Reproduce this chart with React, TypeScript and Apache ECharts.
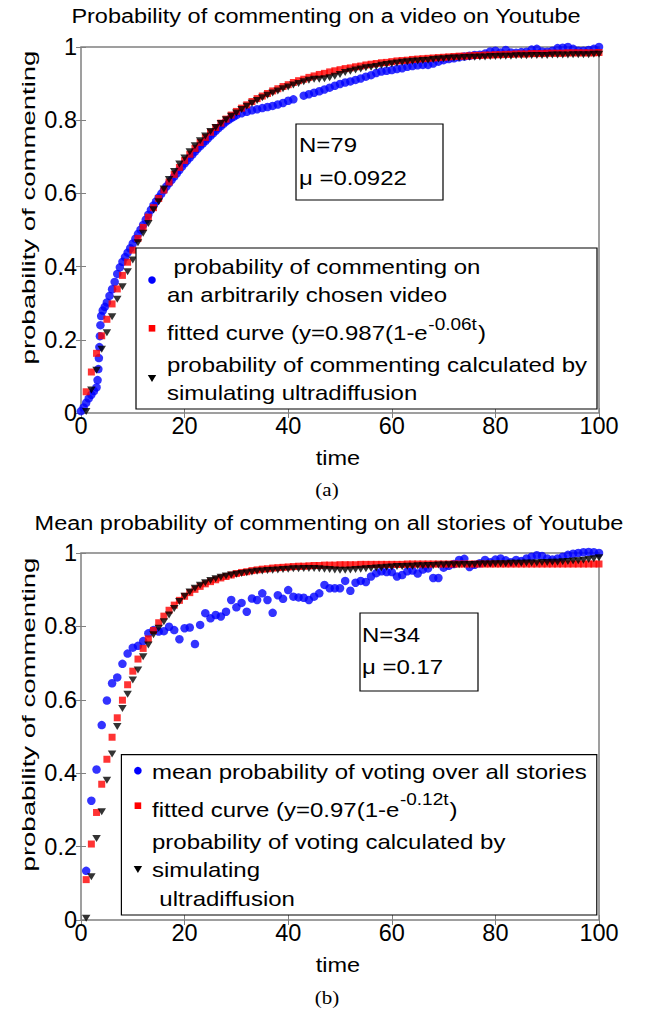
import React, { useEffect, useRef } from "react";
import * as echarts from "echarts";

// ---------- DATA ----------
const xTickValues = [0, 20, 40, 60, 80, 100];
const yTickValues = [0, 0.2, 0.4, 0.6, 0.8, 1];

// (a) probability of commenting on an arbitrarily chosen video: [time, probability]
const videoObserved: [number, number][] = [
  [0, 0.005], [0.5, 0.015], [1, 0.028], [1.5, 0.04], [2, 0.05], [2.5, 0.06], [3, 0.07], [3.2, 0.09],
  [3.35, 0.12], [3.45, 0.15], [3.55, 0.18], [3.65, 0.21], [3.75, 0.24], [3.9, 0.265], [4.2, 0.28],
  [4.6, 0.29], [5, 0.302], [5.5, 0.32], [6, 0.338], [6.5, 0.358], [7, 0.38], [7.5, 0.398], [8, 0.413],
  [8.5, 0.426], [9, 0.438], [9.5, 0.45], [10, 0.463], [10.5, 0.476], [11, 0.489], [11.5, 0.501],
  [12, 0.514], [12.5, 0.528], [13, 0.542], [13.5, 0.555], [14, 0.567], [14.5, 0.578], [15, 0.589],
  [15.5, 0.599], [16, 0.609], [16.5, 0.619], [17, 0.628], [17.5, 0.637], [18, 0.646], [18.5, 0.655],
  [19, 0.664], [19.5, 0.673], [20, 0.682], [20.5, 0.69], [21, 0.698], [21.5, 0.706], [22, 0.714],
  [22.5, 0.722], [23, 0.729], [23.5, 0.736], [24, 0.743], [24.5, 0.75], [25, 0.757], [25.5, 0.764],
  [26, 0.771], [26.5, 0.778], [27, 0.784], [27.5, 0.79], [28, 0.796], [28.5, 0.801], [29, 0.806],
  [29.5, 0.81], [30, 0.814], [31, 0.819], [32, 0.823], [33, 0.827], [34, 0.83], [35, 0.833], [36, 0.836],
  [37, 0.839], [38, 0.843], [39, 0.847], [40, 0.853], [41, 0.857], [43, 0.867], [44, 0.871], [45, 0.875],
  [46, 0.879], [47, 0.884], [48, 0.889], [49, 0.894], [50, 0.899], [51, 0.903], [52, 0.906], [53, 0.91],
  [54, 0.914], [55, 0.919], [56, 0.923], [57, 0.929], [58, 0.933], [59, 0.935], [60, 0.937], [61, 0.94],
  [62, 0.942], [63, 0.946], [64, 0.948], [65, 0.95], [66, 0.951], [67, 0.951], [68, 0.955], [69, 0.96],
  [70, 0.964], [71, 0.967], [72, 0.969], [73, 0.972], [74, 0.974], [75, 0.976], [76, 0.978], [77, 0.979],
  [78, 0.982], [79, 0.988], [80, 0.99], [81, 0.985], [82, 0.992], [83, 0.985], [84, 0.984], [85, 0.986],
  [86, 0.987], [87, 0.993], [88, 0.995], [89, 0.988], [90, 0.987], [91, 0.99], [92, 0.997], [93, 0.998],
  [94, 1.0], [95, 0.995], [96, 0.99], [97, 0.99], [98, 0.992], [99, 0.995], [100, 1.0],
];

// (a) fitted curve, read at t = 1..100
const videoFitted = [
  0.058, 0.112, 0.163, 0.211, 0.256, 0.298, 0.339, 0.376, 0.412, 0.445,
  0.477, 0.507, 0.535, 0.561, 0.586, 0.609, 0.631, 0.652, 0.671, 0.69,
  0.707, 0.723, 0.739, 0.753, 0.767, 0.78, 0.792, 0.803, 0.814, 0.824,
  0.833, 0.842, 0.851, 0.859, 0.866, 0.873, 0.88, 0.886, 0.892, 0.897,
  0.903, 0.908, 0.912, 0.917, 0.921, 0.925, 0.928, 0.932, 0.935, 0.938,
  0.941, 0.943, 0.946, 0.948, 0.951, 0.953, 0.955, 0.957, 0.958, 0.96,
  0.962, 0.963, 0.964, 0.966, 0.967, 0.968, 0.969, 0.97, 0.971, 0.972,
  0.973, 0.974, 0.975, 0.975, 0.976, 0.977, 0.977, 0.978, 0.978, 0.979,
  0.979, 0.98, 0.98, 0.981, 0.981, 0.981, 0.982, 0.982, 0.982, 0.983,
  0.983, 0.983, 0.983, 0.984, 0.984, 0.984, 0.984, 0.984, 0.984, 0.985,
];

// (a) simulated ultradiffusion, t = 1..100
const videoSimulated = [
  0.004, 0.063, 0.117, 0.174, 0.219, 0.263, 0.311, 0.345, 0.386, 0.418,
  0.465, 0.491, 0.518, 0.555, 0.577, 0.612, 0.638, 0.66, 0.68, 0.697,
  0.714, 0.73, 0.744, 0.757, 0.769, 0.78, 0.791, 0.801, 0.811, 0.82,
  0.829, 0.838, 0.846, 0.854, 0.861, 0.868, 0.874, 0.88, 0.886, 0.891,
  0.896, 0.9, 0.905, 0.909, 0.912, 0.912, 0.913, 0.916, 0.92, 0.925,
  0.93, 0.934, 0.937, 0.94, 0.943, 0.945, 0.947, 0.95, 0.952, 0.954,
  0.956, 0.958, 0.96, 0.961, 0.962, 0.963, 0.964, 0.966, 0.967, 0.968,
  0.969, 0.97, 0.97, 0.971, 0.972, 0.972, 0.973, 0.973, 0.974, 0.974,
  0.975, 0.975, 0.975, 0.976, 0.976, 0.976, 0.977, 0.977, 0.977, 0.977,
  0.978, 0.978, 0.978, 0.978, 0.979, 0.979, 0.979, 0.979, 0.98, 0.98,
];

// (b) mean probability over all stories, t = 1..100
const storiesObserved = [
  0.134, 0.325, 0.41, 0.531, 0.598, 0.645, 0.661, 0.698, 0.726, 0.742,
  0.747, 0.76, 0.781, 0.79, 0.786, 0.787, 0.799, 0.79, 0.765, 0.795,
  0.797, 0.752, 0.804, 0.836, 0.822, 0.831, 0.827, 0.84, 0.872, 0.852,
  0.864, 0.84, 0.876, 0.872, 0.89, 0.872, 0.837, 0.885, 0.875, 0.899,
  0.881, 0.879, 0.878, 0.872, 0.881, 0.89, 0.913, 0.904, 0.904, 0.904,
  0.924, 0.897, 0.919, 0.924, 0.921, 0.936, 0.945, 0.95, 0.948, 0.948,
  0.936, 0.94, 0.95, 0.952, 0.944, 0.955, 0.958, 0.932, 0.932, 0.96,
  0.965, 0.97, 0.981, 0.984, 0.962, 0.968, 0.972, 0.981, 0.975, 0.982,
  0.985, 0.98, 0.975, 0.981, 0.978, 0.985, 0.99, 0.994, 0.992, 0.985,
  0.982, 0.985, 0.99, 0.995, 0.998, 1.0, 1.002, 1.003, 1.002, 1.0,
];

// (b) fitted curve, t = 1..100
const storiesFitted = [
  0.11, 0.207, 0.293, 0.37, 0.438, 0.498, 0.551, 0.599, 0.641, 0.678,
  0.711, 0.74, 0.766, 0.789, 0.81, 0.828, 0.844, 0.858, 0.871, 0.882,
  0.892, 0.901, 0.909, 0.916, 0.922, 0.927, 0.932, 0.936, 0.94, 0.944,
  0.947, 0.949, 0.952, 0.954, 0.956, 0.957, 0.959, 0.96, 0.961, 0.962,
  0.963, 0.964, 0.964, 0.965, 0.966, 0.966, 0.967, 0.967, 0.967, 0.968,
  0.968, 0.968, 0.968, 0.969, 0.969, 0.969, 0.969, 0.969, 0.969, 0.969,
  0.969, 0.969, 0.97, 0.97, 0.97, 0.97, 0.97, 0.97, 0.97, 0.97,
  0.97, 0.97, 0.97, 0.97, 0.97, 0.97, 0.97, 0.97, 0.97, 0.97,
  0.97, 0.97, 0.97, 0.97, 0.97, 0.97, 0.97, 0.97, 0.97, 0.97,
  0.97, 0.97, 0.97, 0.97, 0.97, 0.97, 0.97, 0.97, 0.97, 0.97,
];

// (b) simulated ultradiffusion, t = 1..100
const storiesSimulated = [
  0.005, 0.118, 0.222, 0.295, 0.381, 0.452, 0.527, 0.576, 0.615, 0.654,
  0.681, 0.717, 0.749, 0.777, 0.795, 0.813, 0.831, 0.849, 0.868, 0.882,
  0.894, 0.904, 0.912, 0.919, 0.925, 0.93, 0.934, 0.937, 0.94, 0.942,
  0.944, 0.946, 0.948, 0.95, 0.951, 0.952, 0.953, 0.954, 0.955, 0.956,
  0.957, 0.957, 0.958, 0.958, 0.958, 0.957, 0.956, 0.955, 0.954, 0.953,
  0.953, 0.954, 0.955, 0.956, 0.957, 0.958, 0.959, 0.96, 0.961, 0.962,
  0.963, 0.963, 0.964, 0.964, 0.965, 0.965, 0.966, 0.966, 0.967, 0.967,
  0.968, 0.968, 0.968, 0.969, 0.969, 0.969, 0.97, 0.97, 0.97, 0.971,
  0.971, 0.971, 0.972, 0.972, 0.972, 0.973, 0.973, 0.973, 0.974, 0.974,
  0.975, 0.975, 0.976, 0.977, 0.978, 0.979, 0.98, 0.982, 0.984, 0.987,
];

const titleA = "Probability of commenting on a video on Youtube";
const titleB = "Mean probability of commenting on all stories of Youtube";
const yName = "probability of commenting";
const xName = "time";

// ---------- STYLE ----------
const FONT = "'Liberation Sans', Arial, Helvetica, sans-serif";
const SERIF = "'Liberation Serif', 'Times New Roman', serif";
const BLUE = "#0000ff";
const RED = "#ff0000";
const BLACK = "#000000";
const AXIS_GRAY = "#808080";
const TRI = "path://M0,0L10,0L5,8Z";

const byIndex = (arr: number[]) => arr.map((v, i) => [i + 1, v]);

let measureCtx: CanvasRenderingContext2D | null = null;
function measure(s: string, size: number): number {
  if (!measureCtx) measureCtx = document.createElement("canvas").getContext("2d");
  if (!measureCtx) return s.length * size * 0.5;
  measureCtx.font = `${size}px ${FONT}`;
  return measureCtx.measureText(s).width;
}

function txt(x: number, y: number, text: string, size: number, o: any = {}) {
  return {
    type: "text",
    x,
    y,
    z: 100,
    rotation: o.rotation ?? 0,
    scaleX: o.scaleX ?? 1,
    scaleY: o.scaleY ?? 0.85,
    style: {
      text,
      fontSize: size,
      fontFamily: o.family ?? FONT,
      fill: "#000",
      textAlign: o.align ?? "left",
      textVerticalAlign: "middle",
    },
  };
}

// main text + superscript + closing parenthesis, laid out by measured widths
function supLine(x: number, y: number, main: string, sup: string, raise: number) {
  const w1 = measure(main, 24);
  const w2 = measure(sup, 19);
  return [
    txt(x, y, main, 24),
    txt(x + w1 + 0.5, y - raise, sup, 19),
    txt(x + w1 + w2 + 1.5, y, ")", 24),
  ];
}

function box(x: number, y: number, w: number, h: number) {
  return {
    type: "rect",
    z: 99,
    shape: { x, y, width: w, height: h },
    style: { fill: "#fff", stroke: "#000", lineWidth: 1.2 },
  };
}

function circleMark(x: number, y: number) {
  return { type: "circle", z: 101, shape: { cx: x, cy: y, r: 3.8 }, style: { fill: BLUE } };
}
function squareMark(x: number, y: number) {
  return { type: "rect", z: 101, shape: { x: x - 3.3, y: y - 3.3, width: 6.6, height: 6.6 }, style: { fill: RED } };
}
function triMark(x: number, y: number) {
  return {
    type: "polygon",
    z: 101,
    shape: { points: [[x - 4.2, y - 3.2], [x + 4.2, y - 3.2], [x, y + 3.6]] },
    style: { fill: BLACK },
  };
}

const tick = { show: true, inside: true, length: 5, lineStyle: { color: AXIS_GRAY, width: 1 } };

function xAxes(g: number) {
  const base = {
    gridIndex: g,
    type: "value",
    min: 0,
    max: 100,
    interval: 20,
    axisLine: { show: false },
    axisTick: tick,
    splitLine: { show: false },
  };
  return [
    {
      ...base,
      position: "bottom",
      axisLabel: {
        show: true,
        fontSize: 23.5,
        color: "#000",
        fontFamily: FONT,
        margin: 1,
        formatter: (v: number) => (xTickValues.includes(v) ? String(v) : ""),
      },
    },
    { ...base, position: "top", axisLabel: { show: false } },
  ];
}

function yAxes(g: number) {
  const base = {
    gridIndex: g,
    type: "value",
    min: 0,
    max: 1,
    interval: 0.2,
    axisLine: { show: false },
    axisTick: tick,
    splitLine: { show: false },
  };
  return [
    {
      ...base,
      position: "left",
      axisLabel: {
        show: true,
        fontSize: 23.5,
        color: "#000",
        fontFamily: FONT,
        margin: 4,
        formatter: (v: number) => {
          const m = yTickValues.find((t) => Math.abs(t - v) < 1e-6);
          return m === undefined ? "" : String(m);
        },
      },
    },
    { ...base, position: "right", axisLabel: { show: false } },
  ];
}

function seriesFor(axisIdx: number, observed: any[], fitted: number[], simulated: number[]) {
  return [
    {
      type: "scatter",
      xAxisIndex: axisIdx,
      yAxisIndex: axisIdx,
      data: observed,
      symbol: "circle",
      symbolSize: 8.5,
      itemStyle: { color: BLUE },
      clip: false,
      z: 2,
    },
    {
      type: "scatter",
      xAxisIndex: axisIdx,
      yAxisIndex: axisIdx,
      data: byIndex(fitted),
      symbol: "rect",
      symbolSize: 7,
      itemStyle: { color: RED },
      clip: false,
      z: 3,
    },
    {
      type: "scatter",
      xAxisIndex: axisIdx,
      yAxisIndex: axisIdx,
      data: byIndex(simulated),
      symbol: TRI,
      symbolSize: [8.5, 7],
      itemStyle: { color: BLACK },
      clip: false,
      z: 4,
    },
  ];
}

export default function App() {
  const ref = useRef<HTMLDivElement>(null);

  useEffect(() => {
    if (!ref.current) return;
    const chart = echarts.init(ref.current, null, { renderer: "svg" });

    const graphic: any[] = [
      // titles
      txt(326, 16, titleA, 23.5, { align: "center" }),
      txt(329, 523, titleB, 23.5, { align: "center" }),
      // y axis names
      txt(29, 207.5, yName, 26, { align: "center", rotation: Math.PI / 2, scaleX: 1.06, scaleY: 0.72 }),
      txt(29, 714.5, yName, 26, { align: "center", rotation: Math.PI / 2, scaleX: 1.06, scaleY: 0.72 }),
      // x axis names
      txt(338, 458, xName, 23.5, { align: "center" }),
      txt(338, 965, xName, 23.5, { align: "center" }),
      // sub-figure labels
      txt(327, 490, "(a)", 21, { align: "center", family: SERIF }),
      txt(327, 998, "(b)", 21, { align: "center", family: SERIF }),

      // (a) N box
      box(296, 124, 147, 76),
      txt(299, 145, "N=79", 24),
      txt(299, 178.3, "\u03bc =0.0922", 24),

      // (a) legend
      box(136, 248, 461, 161),
      circleMark(152, 280),
      squareMark(152, 328.3),
      triMark(152, 378.3),
      txt(173.6, 266.7, "probability of commenting on", 24),
      txt(167, 295, "an arbitrarily chosen video", 24),
      ...supLine(167, 333.3, "fitted curve (y=0.987(1-e", "-0.06t", 9),
      txt(167, 365, "probability of commenting calculated by", 24),
      txt(167, 393.3, "simulating ultradiffusion", 24),

      // (b) N box
      box(360, 613, 118, 78),
      txt(362, 635, "N=34", 24),
      txt(362, 666.7, "\u03bc =0.17", 24),

      // (b) legend
      box(121.4, 754.7, 475.4, 160.3),
      circleMark(137.9, 770.7),
      squareMark(137.9, 805.7),
      triMark(137.9, 869.3),
      txt(152, 771.7, "mean probability of voting over all stories", 24),
      ...supLine(152, 810, "fitted curve (y=0.97(1-e", "-0.12t", 10),
      txt(152, 841.7, "probability of voting calculated by", 24),
      txt(152, 870, "simulating", 24),
      txt(159.3, 899, "ultradiffusion", 24),
    ];

    chart.setOption({
      animation: false,
      backgroundColor: "#ffffff",
      grid: [
        { left: 81, top: 47, width: 518, height: 366, show: true, borderColor: AXIS_GRAY, borderWidth: 1.5, backgroundColor: "transparent" },
        { left: 81, top: 553, width: 518, height: 367, show: true, borderColor: AXIS_GRAY, borderWidth: 1.5, backgroundColor: "transparent" },
      ],
      xAxis: [...xAxes(0), ...xAxes(1)],
      yAxis: [...yAxes(0), ...yAxes(1)],
      series: [
        ...seriesFor(0, videoObserved, videoFitted, videoSimulated),
        ...seriesFor(2, byIndex(storiesObserved), storiesFitted, storiesSimulated),
      ],
      graphic,
    });

    return () => chart.dispose();
  }, []);

  return (
    <div
      ref={ref}
      style={{ position: "absolute", left: 0, top: 0, width: 657, height: 1015, background: "#fff" }}
    />
  );
}
